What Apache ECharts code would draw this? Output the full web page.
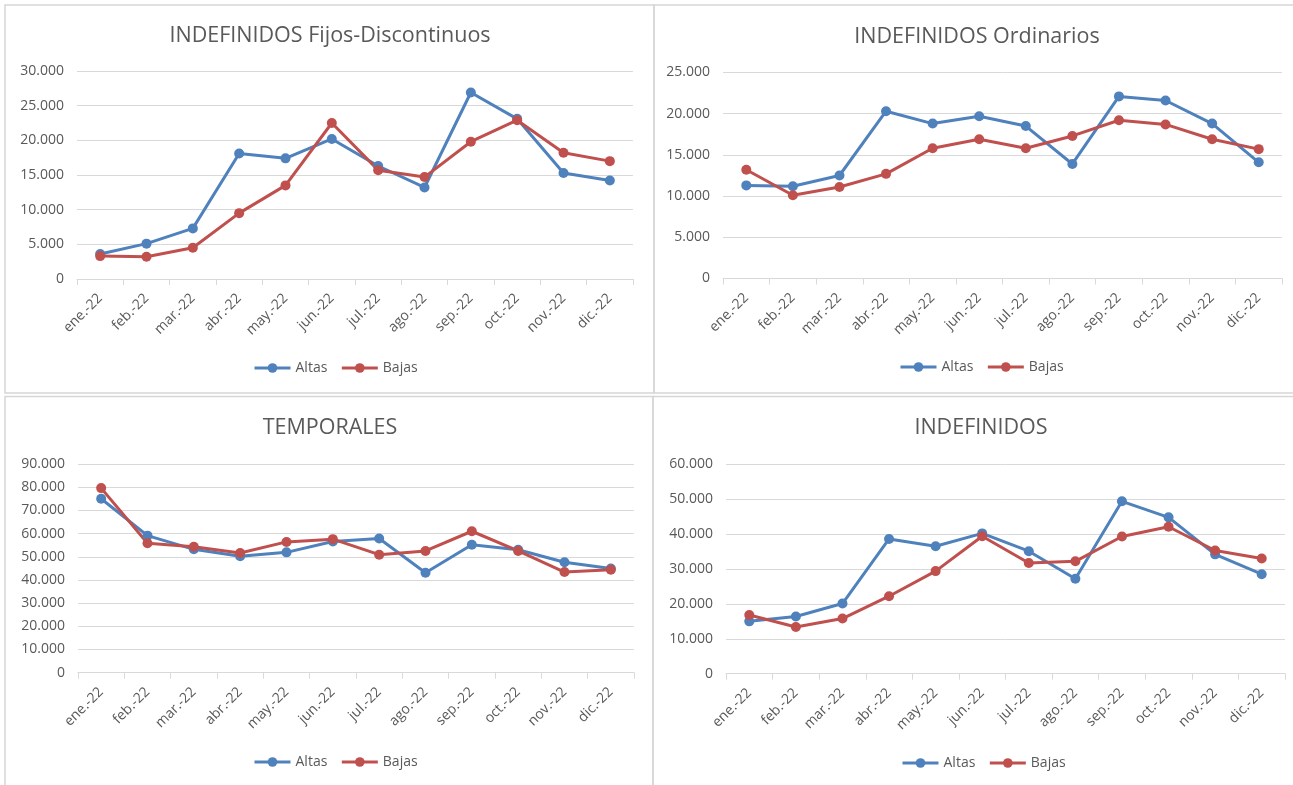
<!DOCTYPE html>
<html>
<head>
<meta charset="utf-8">
<script src="https://cdn.jsdelivr.net/npm/echarts@6/dist/echarts.min.js"></script>
<style>
  html, body { margin: 0; padding: 0; background: #ffffff; }
  #chartId { width: 1293px; height: 785px; }
</style>
</head>
<body>
<div id="chartId"></div>
<script>
// categorías (meses)
const categories = ['ene.-22', 'feb.-22', 'mar.-22', 'abr.-22', 'may.-22', 'jun.-22',
  'jul.-22', 'ago.-22', 'sep.-22', 'oct.-22', 'nov.-22', 'dic.-22'];

// INDEFINIDOS Fijos-Discontinuos
const fdAltas = [3600, 5100, 7300, 18100, 17400, 20200, 16300, 13200, 26900, 23100, 15300, 14200];
const fdBajas = [3300, 3200, 4500, 9500, 13500, 22500, 15700, 14700, 19800, 22900, 18200, 17000];

// INDEFINIDOS Ordinarios
const ordAltas = [11300, 11200, 12500, 20300, 18800, 19700, 18500, 13900, 22100, 21600, 18800, 14100];
const ordBajas = [13200, 10100, 11100, 12700, 15800, 16900, 15800, 17300, 19200, 18700, 16900, 15700];

// TEMPORALES
const tempAltas = [75000, 59100, 53200, 50200, 51900, 56600, 57900, 43100, 55200, 53000, 47600, 44900];
const tempBajas = [79600, 55800, 54300, 51600, 56400, 57600, 50900, 52500, 61000, 52500, 43400, 44400];

// INDEFINIDOS
const indAltas = [15000, 16400, 20100, 38600, 36500, 40200, 35100, 27200, 49400, 44800, 34200, 28500];
const indBajas = [16800, 13400, 15800, 22200, 29400, 39400, 31700, 32200, 39300, 42100, 35300, 33000];

// ejes Y: máximo e intervalo
const yMaxList = [30000, 25000, 90000, 60000];
const yStepList = [5000, 5000, 10000, 10000];

const titles = ['INDEFINIDOS Fijos-Discontinuos', 'INDEFINIDOS Ordinarios', 'TEMPORALES', 'INDEFINIDOS'];
const altasList = [fdAltas, ordAltas, tempAltas, indAltas];
const bajasList = [fdBajas, ordBajas, tempBajas, indBajas];

// posiciones de cada panel
const grids = [
  { left: 77, top: 71, width: 556, height: 208 },
  { left: 723, top: 72.5, width: 559, height: 206 },
  { left: 78, top: 464, width: 556, height: 208.7 },
  { left: 726, top: 464.3, width: 559, height: 209.4 }
];
const titlePos = [[330, 25], [977, 26], [330, 417], [981, 417]];
const legendPos = [[253, 361], [899, 360], [253, 755], [901, 756]];

const FONT = 'Open Sans';
const TEXT_COLOR = '#595959';
const GRID_COLOR = '#d9d9d9';

function fmt(v) {
  return String(v).replace(/\B(?=(\d{3})+(?!\d))/g, '.');
}

function initCharts(idElement) {
  const myEChart = echarts.init(idElement);
  const title = [], grid = [], xAxis = [], yAxis = [], series = [], legend = [];

  for (let i = 0; i < 4; i++) {
    title.push({
      text: titles[i],
      left: titlePos[i][0],
      top: titlePos[i][1],
      textAlign: 'center',
      padding: 0,
      textStyle: { fontFamily: FONT, fontSize: 21.5, fontWeight: 'normal', color: TEXT_COLOR }
    });
    grid.push(Object.assign({ containLabel: false }, grids[i]));
    xAxis.push({
      type: 'category',
      gridIndex: i,
      data: categories,
      boundaryGap: true,
      axisLine: { lineStyle: { color: GRID_COLOR, width: 1 } },
      axisTick: { show: true, length: 6, lineStyle: { color: GRID_COLOR } },
      axisLabel: {
        rotate: 45,
        interval: 0,
        margin: 17,
        fontFamily: FONT,
        fontSize: 14,
        color: TEXT_COLOR
      }
    });
    yAxis.push({
      type: 'value',
      gridIndex: i,
      min: 0,
      max: yMaxList[i],
      interval: yStepList[i],
      axisLine: { show: false },
      axisTick: { show: false },
      axisLabel: { margin: 13, fontFamily: FONT, fontSize: 14, color: TEXT_COLOR, formatter: fmt },
      splitLine: { lineStyle: { color: GRID_COLOR, width: 1 } }
    });
    legend.push({
      data: ['Altas', 'Bajas'],
      left: legendPos[i][0],
      top: legendPos[i][1],
      padding: 0,
      itemWidth: 36,
      itemHeight: 12,
      itemGap: 13,
      lineStyle: { width: 3 },
      textStyle: { fontFamily: FONT, fontSize: 14, color: TEXT_COLOR }
    });
    series.push({
      name: 'Altas',
      type: 'line',
      xAxisIndex: i,
      yAxisIndex: i,
      data: altasList[i],
      symbol: 'circle',
      symbolSize: 10,
      lineStyle: { width: 3, color: '#4f81bd' },
      itemStyle: { color: '#4f81bd' }
    });
    series.push({
      name: 'Bajas',
      type: 'line',
      xAxisIndex: i,
      yAxisIndex: i,
      data: bajasList[i],
      symbol: 'circle',
      symbolSize: 10,
      lineStyle: { width: 3, color: '#c0504d' },
      itemStyle: { color: '#c0504d' }
    });
  }

  const option = {
    animation: false,
    backgroundColor: '#ffffff',
    title: title,
    grid: grid,
    xAxis: xAxis,
    yAxis: yAxis,
    legend: legend,
    series: series,
    // bordes de los paneles
    graphic: [
      { type: 'rect', shape: { x: 5, y: 5, width: 649, height: 388 }, style: { fill: 'none', stroke: '#d6d6d6', lineWidth: 1.5 } },
      { type: 'rect', shape: { x: 654, y: 5, width: 660, height: 388 }, style: { fill: 'none', stroke: '#d6d6d6', lineWidth: 1.5 } },
      { type: 'rect', shape: { x: 5, y: 396.5, width: 648, height: 420 }, style: { fill: 'none', stroke: '#d6d6d6', lineWidth: 1.5 } },
      { type: 'rect', shape: { x: 653, y: 396.5, width: 660, height: 420 }, style: { fill: 'none', stroke: '#d6d6d6', lineWidth: 1.5 } }
    ]
  };
  myEChart.setOption(option);
}

initCharts(document.getElementById('chartId'));
</script>
</body>
</html>
